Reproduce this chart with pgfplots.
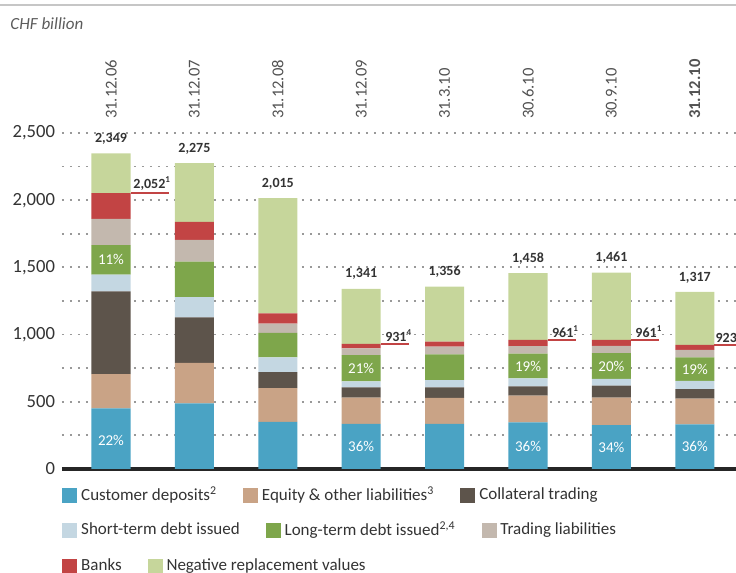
\documentclass[border=0pt]{standalone}
\usepackage{fontspec}
\setmainfont{Carlito}
\usepackage{pgfplots}
\pgfplotsset{compat=1.18}
\usepackage{pgfplotstable}

\definecolor{cdep}{HTML}{4AA3C4}
\definecolor{ceq}{HTML}{C9A386}
\definecolor{ccol}{HTML}{5D544B}
\definecolor{cst}{HTML}{C4D7E2}
\definecolor{clt}{HTML}{7EA64B}
\definecolor{ctr}{HTML}{C3B8AE}
\definecolor{cbk}{HTML}{C24444}
\definecolor{cnrv}{HTML}{C6D69B}
\definecolor{ctext}{HTML}{333333}

\pgfplotstableread{
x dep eq col st lt tr bk nrv
0 451 255 615 125 220 195 191 297
1 489 301 338 150 264 163 133 437
2 351 250 120 110 182 68 76 858
3 335 196 76 45 196 50 33 410
4 336 194 77 55 190 58 38 408
5 346 199 70 60 183 57 46 497
6 327 204 89 50 192 54 45 500
7 332 191 72 60 175 57 36 394
}\datatable

\pgfplotsset{
  geom/.style={at={(0,0)}, anchor=south west, scale only axis, width=337pt, height=168pt,
    xmin=-0.5875, xmax=7.494, ymin=0, ymax=2500, clip=false},
  legrow/.style={hide axis, legend columns=3, legend cell align=left,
    legend style={at={(axis description cs:0.0,#1)}, anchor=west, draw=none, fill=none,
      inner sep=0pt, font=\fontsize{8.5}{10}\selectfont, text=ctext,
      /tikz/every even column/.append style={column sep=11pt}}},
}
\newcommand{\sq}[1]{\addlegendimage{legend image code/.code={\fill[#1] (0pt,-3.5pt) rectangle (7pt,3.5pt);}}}

\begin{document}
\begin{tikzpicture}[font=\fontsize{8.5}{10}\selectfont]
\begin{axis}[geom,
  ybar stacked, bar width=0.468,
  xtick={0,...,7},
  xticklabels={31.12.06,31.12.07,31.12.08,31.12.09,31.3.10,30.6.10,30.9.10,\textbf{31.12.10}},
  xticklabel pos=right,
  xticklabel shift=3.5pt,
  xticklabel style={rotate=90, anchor=west, font=\fontsize{8.3}{10}\selectfont, text=ctext!85},
  ytick={0,500,...,2500}, minor ytick={250,750,...,2250},
  ymajorgrids, yminorgrids,
  major grid style={dash pattern=on 1pt off 3pt, line width=0.9pt, color=gray!80},
  minor grid style={dash pattern=on 1pt off 3pt, line width=0.9pt, color=gray!80},
  major tick length=0pt, minor tick length=0pt,
  axis line style={draw=none},
  yticklabel style={font=\fontsize{9.3}{11}\selectfont, text=ctext},
  /pgf/number format/1000 sep={,},
  /pgf/number format/assume math mode=true,
  extra y ticks={0}, extra y tick labels={},
  extra y tick style={grid=major, major grid style={solid, line width=1.6pt, color=gray!30!black}},
]
\addplot[fill=cdep, draw=none] table[x=x,y=dep]{\datatable};
\addplot[fill=ceq, draw=none] table[x=x,y=eq]{\datatable};
\addplot[fill=ccol, draw=none] table[x=x,y=col]{\datatable};
\addplot[fill=cst, draw=none] table[x=x,y=st]{\datatable};
\addplot[fill=clt, draw=none] table[x=x,y=lt]{\datatable};
\addplot[fill=ctr, draw=none] table[x=x,y=tr]{\datatable};
\addplot[fill=cbk, draw=none] table[x=x,y=bk]{\datatable};
\addplot[fill=cnrv, draw=none] table[x=x,y=nrv]{\datatable};
\end{axis}

\begin{axis}[geom, hide axis]
\addplot[cbk, line width=1pt] coordinates {(0.234,2052) (0.70,2052)};
\addplot[cbk, line width=1pt] coordinates {(3.234,931) (3.57,931)};
\addplot[cbk, line width=1pt] coordinates {(5.234,961) (5.57,961)};
\addplot[cbk, line width=1pt] coordinates {(6.234,961) (6.57,961)};
\addplot[cbk, line width=1pt] coordinates {(7.234,923) (7.6,923)};
\begin{scope}[every node/.style={font=\bfseries\fontsize{7}{8}\selectfont, text=ctext}]
\node[anchor=south, yshift=1pt] at (axis cs:0,2349) {2,349};
\node[anchor=south, yshift=1pt] at (axis cs:1,2275) {2,275};
\node[anchor=south, yshift=1pt] at (axis cs:2,2015) {2,015};
\node[anchor=south, yshift=1pt] at (axis cs:3,1341) {1,341};
\node[anchor=south, yshift=1pt] at (axis cs:4,1356) {1,356};
\node[anchor=south, yshift=1pt] at (axis cs:5,1458) {1,458};
\node[anchor=south, yshift=1pt] at (axis cs:6,1461) {1,461};
\node[anchor=south, yshift=1pt] at (axis cs:7,1317) {1,317};
\node[anchor=south west, inner sep=1pt] at (axis cs:0.24,2052) {2,052\textsuperscript{\fontsize{4.5}{5}\selectfont 1}};
\node[anchor=south west, inner sep=1pt] at (axis cs:3.26,931) {931\textsuperscript{\fontsize{4.5}{5}\selectfont 4}};
\node[anchor=south west, inner sep=1pt] at (axis cs:5.26,961) {961\textsuperscript{\fontsize{4.5}{5}\selectfont 1}};
\node[anchor=south west, inner sep=1pt] at (axis cs:6.26,961) {961\textsuperscript{\fontsize{4.5}{5}\selectfont 1}};
\node[anchor=south west, inner sep=1pt] at (axis cs:7.22,923) {923\textsuperscript{\fontsize{4.5}{5}\selectfont 1}};
\end{scope}
\begin{scope}[every node/.style={font=\fontsize{7.5}{8}\selectfont, text=white}]
\node at (axis cs:0,215) {22\%};
\node at (axis cs:0,1556) {11\%};
\node at (axis cs:3,170) {36\%};
\node at (axis cs:3,750) {21\%};
\node at (axis cs:5,170) {36\%};
\node at (axis cs:5,766) {19\%};
\node at (axis cs:6,163) {34\%};
\node at (axis cs:6,766) {20\%};
\node at (axis cs:7,166) {36\%};
\node at (axis cs:7,742) {19\%};
\end{scope}
\end{axis}

\begin{axis}[geom, legrow=-0.0774]
\sq{cdep}\addlegendentry{Customer deposits\textsuperscript{2}}
\sq{ceq}\addlegendentry{Equity \& other liabilities\textsuperscript{3}}
\sq{ccol}\addlegendentry{Collateral trading}
\end{axis}
\begin{axis}[geom, legrow=-0.1815]
\sq{cst}\addlegendentry{Short-term debt issued}
\sq{clt}\addlegendentry{Long-term debt issued\textsuperscript{2,4}}
\sq{ctr}\addlegendentry{Trading liabilities}
\end{axis}
\begin{axis}[geom, legrow=-0.2887]
\sq{cbk}\addlegendentry{Banks}
\sq{cnrv}\addlegendentry{Negative replacement values}
\end{axis}

\draw[gray!45, line width=1.2pt] (-31pt,232pt) -- (337pt,232pt);
\node[anchor=west, inner sep=0pt, font=\itshape\fontsize{8.5}{10}\selectfont, text=ctext!80] at (-26pt,222.5pt) {CHF billion};
\pgfresetboundingbox
\useasboundingbox (-31pt,-52pt) rectangle (337pt,234.5pt);
\end{tikzpicture}
\end{document}
